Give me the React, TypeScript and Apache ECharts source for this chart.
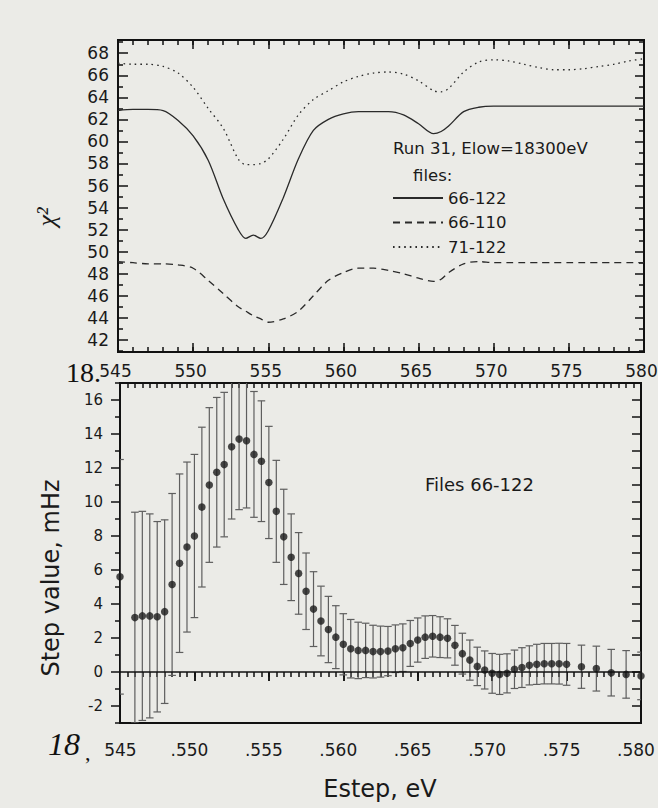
import React, { useEffect, useRef } from 'react';
import * as echarts from 'echarts';

// ---------- top panel: chi^2 versus step energy ----------
const chiEnergy = [545, 546, 547, 548, 549, 550, 551, 552, 553, 553.5, 554, 554.5, 555, 556, 557, 558, 559, 560, 561, 562, 563, 564, 565, 566, 566.5, 567, 568, 569, 570, 571, 572, 573, 574, 575, 576, 577, 578, 579, 580];
const chiFiles66to122 = [62.8, 62.9, 62.9, 62.8, 61.9, 60.5, 58.3, 54.8, 52.0, 51.2, 51.5, 51.2, 51.9, 54.9, 58.4, 61.0, 62.0, 62.5, 62.7, 62.7, 62.7, 62.4, 61.6, 60.7, 60.9, 61.4, 62.7, 63.1, 63.2, 63.2, 63.2, 63.2, 63.2, 63.2, 63.2, 63.2, 63.2, 63.2, 63.2];
const chiFiles66to110 = [49.1, 49.0, 48.9, 48.9, 48.8, 48.5, 47.4, 46.2, 45.0, 44.6, 44.2, 43.9, 43.6, 43.9, 44.6, 46.0, 47.4, 48.1, 48.5, 48.5, 48.3, 48.0, 47.6, 47.3, 47.5, 48.1, 48.9, 49.1, 49.0, 49.0, 49.0, 49.0, 49.0, 49.0, 49.0, 49.0, 49.0, 49.0, 49.0];
const chiFiles71to122 = [67.1, 67.0, 67.0, 66.8, 66.2, 64.9, 63.0, 61.2, 58.4, 57.9, 57.9, 58.0, 58.4, 60.2, 62.4, 63.8, 64.6, 65.4, 65.9, 66.2, 66.3, 66.1, 65.5, 64.6, 64.5, 64.8, 66.3, 67.2, 67.4, 67.3, 67.0, 66.7, 66.5, 66.5, 66.6, 66.8, 67.0, 67.3, 67.5];
const chiSeriesNames = ['66-122', '66-110', '71-122'];

// ---------- bottom panel: step value with error bars ----------
const stepEnergy = [545, 546, 546.5, 547, 547.5, 548, 548.5, 549, 549.5, 550, 550.5, 551, 551.5, 552, 552.5, 553, 553.5, 554, 554.5, 555, 555.5, 556, 556.5, 557, 557.5, 558, 558.5, 559, 559.5, 560, 560.5, 561, 561.5, 562, 562.5, 563, 563.5, 564, 564.5, 565, 565.5, 566, 566.5, 567, 567.5, 568, 568.5, 569, 569.5, 570, 570.5, 571, 571.5, 572, 572.5, 573, 573.5, 574, 574.5, 575, 576, 577, 578, 579, 580];
const stepValue = [5.6, 3.2, 3.3, 3.3, 3.25, 3.55, 5.15, 6.4, 7.35, 8.0, 9.7, 11.0, 11.75, 12.2, 13.25, 13.7, 13.6, 12.8, 12.4, 11.15, 9.45, 7.95, 6.75, 5.8, 4.75, 3.7, 3.0, 2.5, 2.05, 1.63, 1.37, 1.27, 1.27, 1.2, 1.2, 1.23, 1.37, 1.43, 1.68, 1.88, 2.05, 2.1, 2.05, 1.98, 1.57, 1.08, 0.7, 0.33, 0.12, -0.08, -0.14, -0.08, 0.16, 0.26, 0.39, 0.45, 0.49, 0.49, 0.49, 0.45, 0.31, 0.2, -0.04, -0.14, -0.23];
const stepError = [6.9, 6.2, 6.15, 6.0, 5.6, 5.4, 5.35, 5.25, 5.0, 4.8, 4.7, 4.55, 4.4, 4.25, 4.25, 4.15, 3.95, 3.7, 3.55, 3.3, 3.0, 2.8, 2.55, 2.4, 2.25, 2.2, 2.05, 1.95, 1.85, 1.8, 1.72, 1.66, 1.6, 1.55, 1.5, 1.45, 1.4, 1.4, 1.35, 1.3, 1.25, 1.22, 1.2, 1.15, 1.17, 1.2, 1.18, 1.13, 1.12, 1.17, 1.18, 1.15, 1.13, 1.17, 1.15, 1.18, 1.19, 1.19, 1.2, 1.23, 1.27, 1.32, 1.37, 1.4, 1.4];

// ---------- tick values ----------
const energyMajorTicks = [545, 550, 555, 560, 565, 570, 575, 580];
const chiMajorTicks = [42, 44, 46, 48, 50, 52, 54, 56, 58, 60, 62, 64, 66, 68];
const chiMinorTicks = [41, 43, 45, 47, 49, 51, 53, 55, 57, 59, 61, 63, 65, 67, 69];
const stepMajorTicks = [-2, 0, 2, 4, 6, 8, 10, 12, 14, 16];
const stepMinorTicks = [-3, -1, 1, 3, 5, 7, 9, 11, 13, 15, 17];

const range = (a: number, b: number, s: number) => {
  const out: number[] = [];
  for (let v = a; v <= b + 1e-9; v += s) out.push(Math.round(v * 100) / 100);
  return out;
};
const energyUnitTicks = range(545, 580, 1);
const energyHalfTicks = range(545, 580, 0.5);
const stepUnitTicks = range(-3, 17, 1);

const FONT = 'DejaVu Sans';
const INK = '#1a1a1a';

const CHI_MIN = 40.9;
const CHI_MAX = 69.2;
const STEP_MIN = -3;
const STEP_MAX = 17;

function tickAxis(o: any) {
  return {
    type: 'value',
    gridIndex: o.grid,
    position: o.position,
    min: o.min,
    max: o.max,
    axisLine: { show: false },
    splitLine: { show: false },
    axisTick: {
      show: true,
      inside: o.inside,
      length: o.length,
      customValues: o.ticks,
      lineStyle: { color: '#111', width: 1.5 },
    },
    axisLabel: o.labels
      ? {
          show: true,
          customValues: o.labels,
          formatter: o.formatter,
          fontFamily: FONT,
          fontSize: o.fontSize,
          color: INK,
          margin: o.margin,
          padding: o.padding || 0,
          hideOverlap: false,
        }
      : { show: false },
  };
}

export default function App() {
  const ref = useRef<HTMLDivElement>(null);

  useEffect(() => {
    if (!ref.current) return;
    const chart = echarts.init(ref.current, undefined, { renderer: 'svg' });

    const lineSeries = (name: string, values: number[], type: any) => ({
      name,
      type: 'line',
      xAxisIndex: 0,
      yAxisIndex: 0,
      data: chiEnergy.map((x, i) => [x, values[i]]),
      symbol: 'none',
      smooth: 0.3,
      color: '#2a2a2a',
      lineStyle: { color: '#2a2a2a', width: 1.3, type },
      clip: true,
    });

    const option: any = {
      animation: false,
      backgroundColor: '#ebebe7',
      grid: [
        { left: 118, top: 40, width: 526, height: 312, show: true, borderColor: '#111', borderWidth: 2, backgroundColor: 'transparent', containLabel: false, outerBoundsMode: 'none' },
        { left: 120, top: 383, width: 521, height: 340, show: true, borderColor: '#111', borderWidth: 2, backgroundColor: 'transparent', containLabel: false, outerBoundsMode: 'none' },
      ],
      xAxis: [
        tickAxis({ grid: 0, position: 'bottom', min: 545, max: 580, inside: true, length: 9, ticks: energyMajorTicks, labels: energyMajorTicks, fontSize: 17, margin: 10, padding: [0, 5, 0, 0], formatter: (v: number) => String(v) }),
        tickAxis({ grid: 0, position: 'bottom', min: 545, max: 580, inside: true, length: 5, ticks: energyUnitTicks }),
        tickAxis({ grid: 0, position: 'top', min: 545, max: 580, inside: true, length: 9, ticks: energyMajorTicks }),
        tickAxis({ grid: 0, position: 'top', min: 545, max: 580, inside: true, length: 5, ticks: energyUnitTicks }),
        tickAxis({ grid: 1, position: 'bottom', min: 545, max: 580, inside: false, length: 9, ticks: energyMajorTicks, labels: energyMajorTicks, fontSize: 17, margin: 18, padding: [0, 10, 0, 0], formatter: (v: number) => (v === 545 ? '\u00a0\u00a0545' : '.' + v) }),
        tickAxis({ grid: 1, position: 'bottom', min: 545, max: 580, inside: false, length: 5, ticks: energyHalfTicks }),
        tickAxis({ grid: 1, position: 'top', min: 545, max: 580, inside: true, length: 9, ticks: energyMajorTicks }),
        tickAxis({ grid: 1, position: 'top', min: 545, max: 580, inside: true, length: 5, ticks: energyHalfTicks }),
      ],
      yAxis: [
        tickAxis({ grid: 0, position: 'left', min: CHI_MIN, max: CHI_MAX, inside: true, length: 10, ticks: chiMajorTicks, labels: chiMajorTicks, fontSize: 17, margin: 9, formatter: (v: number) => String(v) }),
        tickAxis({ grid: 0, position: 'left', min: CHI_MIN, max: CHI_MAX, inside: true, length: 5, ticks: chiMinorTicks }),
        tickAxis({ grid: 0, position: 'right', min: CHI_MIN, max: CHI_MAX, inside: true, length: 9, ticks: chiMajorTicks }),
        tickAxis({ grid: 0, position: 'right', min: CHI_MIN, max: CHI_MAX, inside: true, length: 5, ticks: chiMinorTicks }),
        tickAxis({ grid: 1, position: 'left', min: STEP_MIN, max: STEP_MAX, inside: false, length: 9, ticks: stepMajorTicks, labels: stepMajorTicks, fontSize: 15, margin: 17, formatter: (v: number) => String(v) }),
        tickAxis({ grid: 1, position: 'left', min: STEP_MIN, max: STEP_MAX, inside: false, length: 5, ticks: stepMinorTicks }),
        tickAxis({ grid: 1, position: 'right', min: STEP_MIN, max: STEP_MAX, inside: true, length: 9, ticks: stepUnitTicks }),
      ],
      legend: {
        orient: 'vertical',
        left: 392,
        top: 188,
        padding: 0,
        itemWidth: 50,
        itemHeight: 14,
        itemGap: 4.5,
        data: chiSeriesNames,
        itemStyle: { opacity: 0 },
        textStyle: { fontFamily: FONT, fontSize: 16.5, color: INK, lineHeight: 20 },
        selectedMode: false,
      },
      series: [
        lineSeries(chiSeriesNames[0], chiFiles66to122, 'solid'),
        lineSeries(chiSeriesNames[1], chiFiles66to110, [7, 5]),
        lineSeries(chiSeriesNames[2], chiFiles71to122, [1.6, 4]),
        {
          name: 'error',
          type: 'custom',
          xAxisIndex: 4,
          yAxisIndex: 4,
          clip: true,
          data: stepEnergy.map((x, i) => [x, stepValue[i] - stepError[i], stepValue[i] + stepError[i]]),
          encode: { x: 0, y: [1, 2] },
          renderItem: (_p: any, api: any) => {
            const x = api.value(0);
            const lo = api.coord([x, api.value(1)]);
            const hi = api.coord([x, api.value(2)]);
            const cap = 3.8;
            const style = { stroke: '#5e5e5e', lineWidth: 1.2 };
            return {
              type: 'group',
              children: [
                { type: 'line', shape: { x1: lo[0], y1: lo[1], x2: hi[0], y2: hi[1] }, style },
                { type: 'line', shape: { x1: lo[0] - cap, y1: lo[1], x2: lo[0] + cap, y2: lo[1] }, style },
                { type: 'line', shape: { x1: hi[0] - cap, y1: hi[1], x2: hi[0] + cap, y2: hi[1] }, style },
              ],
            };
          },
        },
        {
          name: 'step',
          type: 'scatter',
          xAxisIndex: 4,
          yAxisIndex: 4,
          data: stepEnergy.map((x, i) => [x, stepValue[i]]),
          symbol: 'circle',
          symbolSize: 7.5,
          itemStyle: { color: '#1c1c1c' },
          clip: true,
          markLine: {
            silent: true,
            symbol: ['none', 'none'],
            label: { show: false },
            lineStyle: { color: '#111', width: 1.6, type: 'solid' },
            data: [{ yAxis: 0 }],
          },
        },
      ],
      graphic: [
        { type: 'text', x: 393, y: 148, style: { text: 'Run 31, Elow=18300eV', fontFamily: FONT, fontSize: 16.5, fill: INK, textAlign: 'left', textVerticalAlign: 'middle', align: 'left', verticalAlign: 'middle' } },
        { type: 'text', x: 413, y: 175, style: { text: 'files:', fontFamily: FONT, fontSize: 16.5, fill: INK, textAlign: 'left', textVerticalAlign: 'middle', align: 'left', verticalAlign: 'middle' } },
        { type: 'text', x: 425, y: 484, style: { text: 'Files 66-122', fontFamily: FONT, fontSize: 18, fill: INK, textAlign: 'left', textVerticalAlign: 'middle', align: 'left', verticalAlign: 'middle' } },
        { type: 'text', x: 46, y: 217, rotation: Math.PI / 2, style: { text: 'χ²', fontFamily: 'Liberation Serif', fontStyle: 'italic', fontSize: 26, fill: INK, textAlign: 'center', textVerticalAlign: 'middle', align: 'center', verticalAlign: 'middle' } },
        { type: 'text', x: 51, y: 578, rotation: Math.PI / 2, style: { text: 'Step value, mHz', fontFamily: FONT, fontSize: 24, fill: INK, textAlign: 'center', textVerticalAlign: 'middle', align: 'center', verticalAlign: 'middle' } },
        { type: 'text', x: 380, y: 789, style: { text: 'Estep, eV', fontFamily: FONT, fontSize: 24, fill: INK, textAlign: 'center', textVerticalAlign: 'middle', align: 'center', verticalAlign: 'middle' } },
        { type: 'text', x: 66, y: 372, style: { text: '18.', fontFamily: 'Liberation Serif', fontSize: 28, fill: '#111', textAlign: 'left', textVerticalAlign: 'middle', align: 'left', verticalAlign: 'middle' } },
        { type: 'text', x: 48, y: 744, style: { text: '18', fontFamily: 'Liberation Serif', fontStyle: 'italic', fontSize: 32, fill: '#111', textAlign: 'left', textVerticalAlign: 'middle', align: 'left', verticalAlign: 'middle' } },
        { type: 'text', x: 85, y: 752, style: { text: ',', fontFamily: 'Liberation Serif', fontSize: 22, fill: '#111', textAlign: 'left', textVerticalAlign: 'middle', align: 'left', verticalAlign: 'middle' } },
      ],
    };

    chart.setOption(option);
    return () => chart.dispose();
  }, []);

  return <div ref={ref} style={{ position: 'fixed', left: 0, top: 0, width: 658, height: 808 }} />;
}
